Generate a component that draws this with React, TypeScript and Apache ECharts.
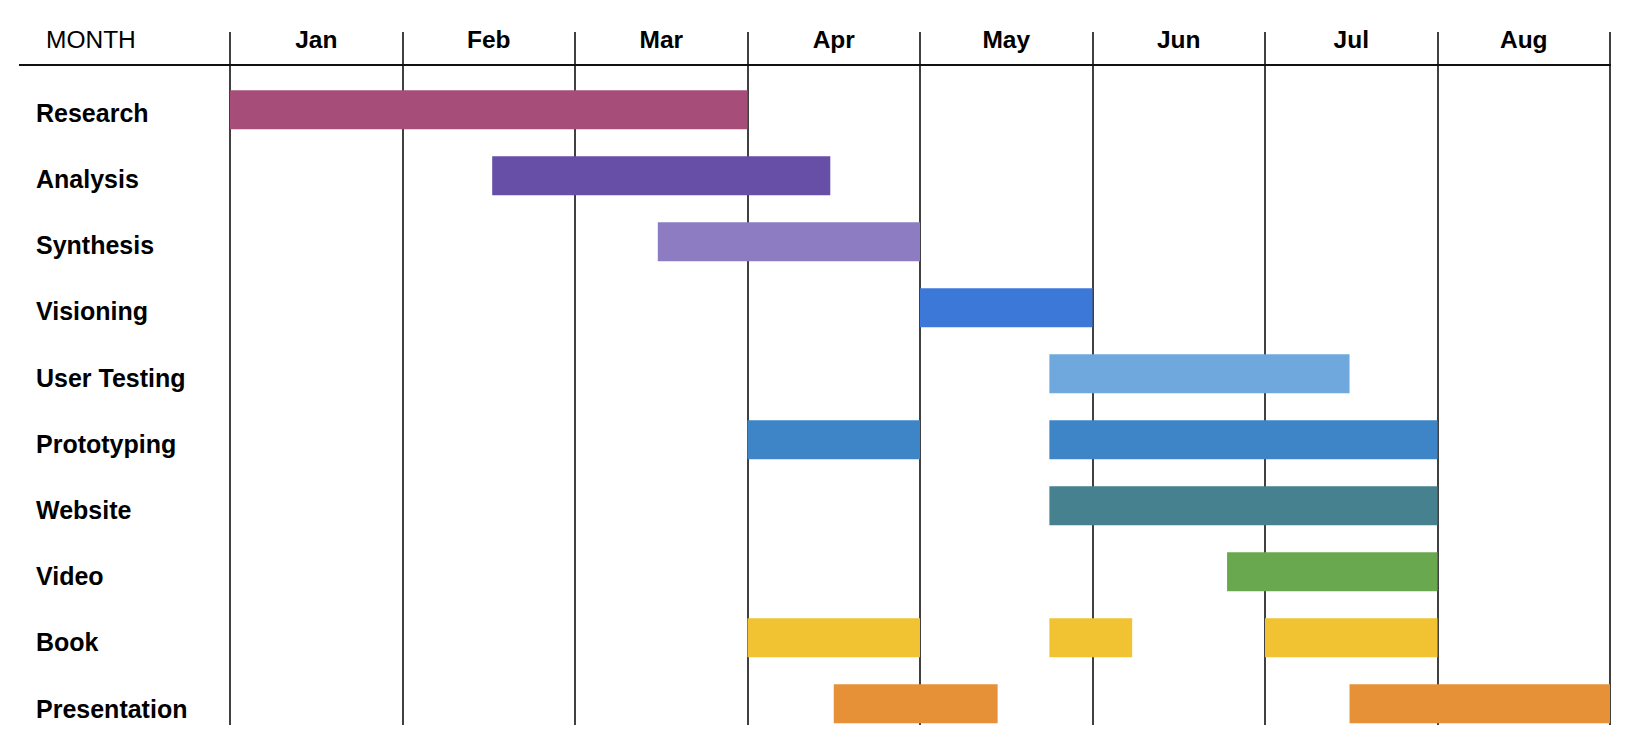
import React, { useEffect, useRef } from "react";
import * as echarts from "echarts";

const months = ["Jan", "Feb", "Mar", "Apr", "May", "Jun", "Jul", "Aug"];
const tasks = [
  "Research",
  "Analysis",
  "Synthesis",
  "Visioning",
  "User Testing",
  "Prototyping",
  "Website",
  "Video",
  "Book",
  "Presentation",
];
// start / end of each segment, in months from the start of January
const segStarts = [[0], [1.52], [2.48], [4.0], [4.75], [3.0, 4.75], [4.75], [5.78], [3.0, 4.75, 6.0], [3.5, 6.49]];
const segEnds = [[3.0], [3.48], [4.0], [5.0], [6.49], [4.0, 7.0], [7.0], [7.0], [4.0, 5.23, 7.0], [4.45, 8.0]];
const taskColors = ["#A64D79", "#674EA7", "#8E7CC3", "#3C78D8", "#6FA8DC", "#3D85C6", "#45818E", "#6AA84F", "#F1C232", "#E69138"];

const FONT = "'Liberation Sans', Arial, Helvetica, sans-serif";

export default function App() {
  const ref = useRef<HTMLDivElement>(null);
  useEffect(() => {
    document.body.style.margin = "0";
    const chart = echarts.init(ref.current!, undefined, { renderer: "svg" });
    const data: any[] = [];
    tasks.forEach((_, i) => {
      segStarts[i].forEach((s, j) => {
        data.push({ value: [i, s, segEnds[i][j]], itemStyle: { color: taskColors[i] } });
      });
    });
    const L = 230, R = 38;
    const hiddenValueX = (gridIndex: number) => ({
      type: "value", gridIndex, min: 0, max: 8,
      axisLine: { show: false }, axisTick: { show: false }, axisLabel: { show: false },
      splitLine: { show: false },
    });
    chart.setOption({
      animation: false,
      backgroundColor: "#ffffff",
      grid: [
        { left: L, right: R, top: 32, bottom: 29 },
        { left: L, right: R, top: 76.8, height: 660 },
        { left: L, right: R, top: 79.6, height: 662 },
      ],
      xAxis: [
        {
          type: "value", gridIndex: 0, min: 0, max: 8, interval: 1,
          axisLine: { show: false }, axisTick: { show: false }, axisLabel: { show: false },
          splitLine: { show: true, lineStyle: { color: "#111", width: 1.6 } },
        },
        {
          type: "category", gridIndex: 0, position: "top", data: months, boundaryGap: true,
          axisLine: { show: false }, axisTick: { show: false }, splitLine: { show: false },
          axisLabel: {
            margin: -7, verticalAlign: "middle", color: "#000", fontSize: 24.5,
            fontWeight: "bold", fontFamily: FONT,
          },
        },
        hiddenValueX(1),
        hiddenValueX(2),
      ],
      yAxis: [
        { type: "value", gridIndex: 0, show: false, splitLine: { show: false } },
        { type: "category", gridIndex: 1, data: tasks, inverse: true, show: false },
        {
          type: "category", gridIndex: 2, data: tasks, inverse: true,
          axisLine: { show: false }, axisTick: { show: false }, splitLine: { show: false },
          axisLabel: {
            align: "left", margin: L - 36, color: "#000", fontSize: 25,
            fontWeight: "bold", fontFamily: FONT,
          },
        },
      ],
      graphic: [
        {
          type: "line", shape: { x1: 19, y1: 65, x2: 1611, y2: 65 },
          style: { stroke: "#111", lineWidth: 2 }, silent: true,
        },
        {
          type: "text", x: 46, y: 39,
          style: {
            text: "MONTH", fill: "#000", fontSize: 24.5, fontFamily: FONT,
            verticalAlign: "middle", align: "left",
          },
        },
      ],
      series: [
        {
          type: "custom",
          xAxisIndex: 2,
          yAxisIndex: 1,
          clip: false,
          encode: { x: [1, 2], y: 0 },
          data,
          renderItem: (params: any, api: any) => {
            const row = api.value(0);
            const s = api.coord([api.value(1), row]);
            const e = api.coord([api.value(2), row]);
            const h = api.size([0, 1])[1] * 0.59;
            return {
              type: "rect",
              shape: { x: s[0], y: s[1] - h / 2, width: e[0] - s[0], height: h },
              style: api.style(),
            };
          },
        },
      ],
    });
    return () => chart.dispose();
  }, []);
  return <div ref={ref} style={{ width: 1648, height: 754 }} />;
}
